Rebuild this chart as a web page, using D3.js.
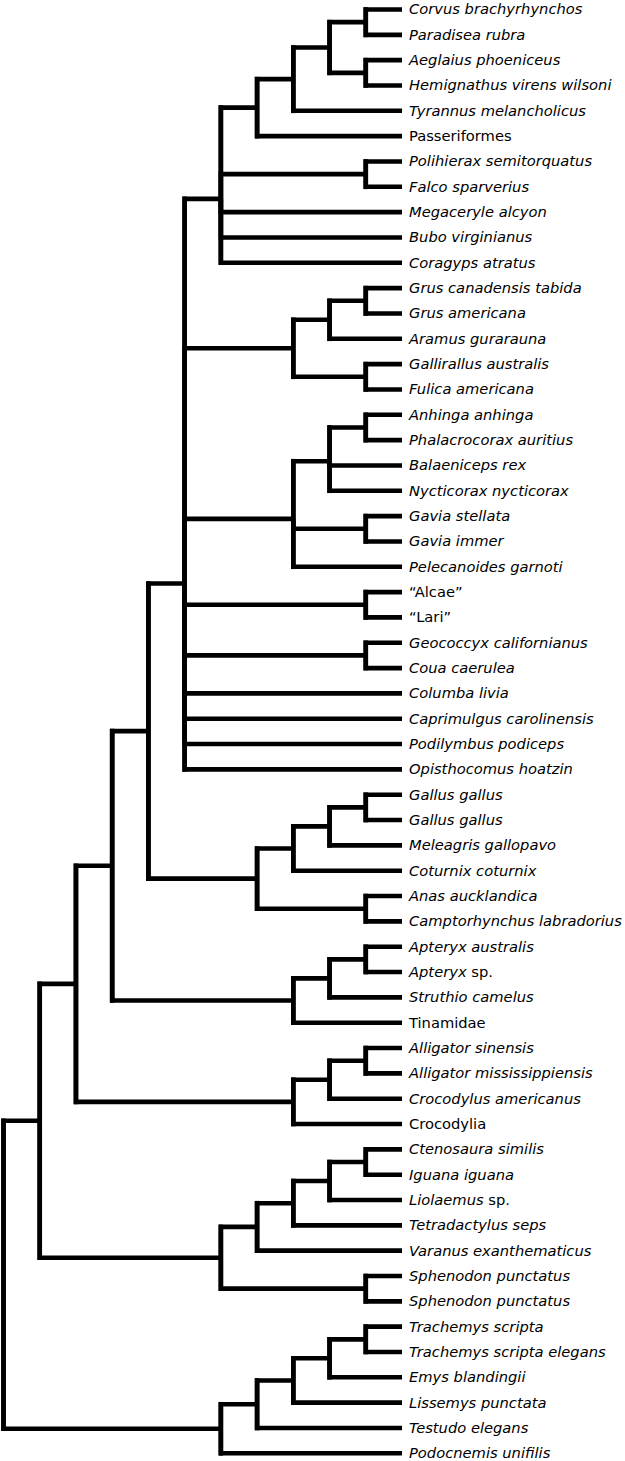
<!DOCTYPE html>
<html>
<head>
<meta charset="utf-8">
<script src="https://cdn.jsdelivr.net/npm/d3@7"></script>
<style>
  html, body { margin: 0; padding: 0; background: #fff; }
  svg { display: block; }
</style>
</head>
<body>
<div id="chart"></div>
<script>
// ---- Data ----
const taxa = [
  "Corvus brachyrhynchos", "Paradisea rubra", "Aeglaius phoeniceus", "Hemignathus virens wilsoni",
  "Tyrannus melancholicus", "Passeriformes", "Polihierax semitorquatus", "Falco sparverius",
  "Megaceryle alcyon", "Bubo virginianus", "Coragyps atratus", "Grus canadensis tabida",
  "Grus americana", "Aramus gurarauna", "Gallirallus australis", "Fulica americana",
  "Anhinga anhinga", "Phalacrocorax auritius", "Balaeniceps rex", "Nycticorax nycticorax",
  "Gavia stellata", "Gavia immer", "Pelecanoides garnoti", "\u201CAlcae\u201D",
  "\u201CLari\u201D", "Geococcyx californianus", "Coua caerulea", "Columba livia",
  "Caprimulgus carolinensis", "Podilymbus podiceps", "Opisthocomus hoatzin", "Gallus gallus",
  "Gallus gallus", "Meleagris gallopavo", "Coturnix coturnix", "Anas aucklandica",
  "Camptorhynchus labradorius", "Apteryx australis", "Apteryx sp.", "Struthio camelus",
  "Tinamidae", "Alligator sinensis", "Alligator mississippiensis", "Crocodylus americanus",
  "Crocodylia", "Ctenosaura similis", "Iguana iguana", "Liolaemus sp.",
  "Tetradactylus seps", "Varanus exanthematicus", "Sphenodon punctatus", "Sphenodon punctatus",
  "Trachemys scripta", "Trachemys scripta elegans", "Emys blandingii", "Lissemys punctata",
  "Testudo elegans", "Podocnemis unifilis"
];

// Labels written upright (higher-level taxa, informal groups)
const uprightTaxa = ["Passeriformes", "\u201CAlcae\u201D", "\u201CLari\u201D", "Tinamidae", "Crocodylia"];

// Topology (Newick, leaves are indices into taxa)
const landbirds    = "(((((0,1),(2,3)),4),5),(6,7),8,9,10)";
const gruiformes   = "(((11,12),13),(14,15))";
const waterbirds   = "(((16,17),18,19),(20,21),22)";
const neoaves      = `(${landbirds},${gruiformes},${waterbirds},(23,24),(25,26),27,28,29,30)`;
const galloanserae = "((((31,32),33),34),(35,36))";
const palaeognaths = "(((37,38),39),40)";
const crocodiles   = "(((41,42),43),44)";
const lepidosaurs  = "(((((45,46),47),48),49),(50,51))";
const turtles      = "(((((52,53),54),55),56),57)";
const topology = `(((((${neoaves},${galloanserae}),${palaeognaths}),${crocodiles}),${lepidosaurs}),${turtles});`;

// ---- Parse Newick ----
function parseNewick(s) {
  let i = 0;
  function node() {
    if (s[i] === "(") {
      i++;
      const children = [node()];
      while (s[i] === ",") { i++; children.push(node()); }
      i++; // ')'
      return { children };
    }
    let tok = "";
    while (i < s.length && /[0-9]/.test(s[i])) tok += s[i++];
    return { leaf: +tok };
  }
  return node();
}

// ---- Layout ----
const W = 625, H = 1461;
const leafStep = 25.33;
const marginLeft = 3.5, treeWidth = 398.5;
const marginTop = 9.5;

const root = d3.hierarchy(parseNewick(topology), d => d.children);
const nLeaves = root.leaves().length;

const cluster = d3.cluster()
  .size([nLeaves * leafStep, treeWidth])
  .separation(() => 1);
cluster(root);

const yOff = marginTop - leafStep / 2;

const svg = d3.select("#chart").append("svg")
  .attr("width", W).attr("height", H);

const g = svg.append("g").attr("transform", `translate(${marginLeft},${yOff})`);

const SW = 4.6;

g.selectAll("path.link")
  .data(root.links())
  .join("path")
  .attr("class", "link")
  .attr("d", d => `M${d.source.y},${d.source.x}V${d.target.x}H${d.target.y}`)
  .attr("fill", "none")
  .attr("stroke", "#000")
  .attr("stroke-width", SW)
  .attr("stroke-linejoin", "miter")
  .attr("stroke-linecap", "butt");

// square off the vertical bars' ends
g.selectAll("path.vbar")
  .data(root.descendants().filter(d => d.children))
  .join("path")
  .attr("class", "vbar")
  .attr("d", d => {
    const xs = d.children.map(c => c.x);
    return `M${d.y},${d3.min(xs) - SW / 2}V${d3.max(xs) + SW / 2}`;
  })
  .attr("stroke", "#000")
  .attr("stroke-width", SW);

const labels = g.selectAll("text.leaf")
  .data(root.leaves())
  .join("text")
  .attr("class", "leaf")
  .attr("x", d => d.y + 7)
  .attr("y", d => d.x)
  .attr("dy", "0.34em")
  .attr("font-family", "'DejaVu Sans', Verdana, sans-serif")
  .attr("font-size", 14.7)
  .attr("fill", "#000");

labels.each(function(d) {
  const name = taxa[d.data.leaf];
  const t = d3.select(this);
  if (uprightTaxa.includes(name)) {
    t.append("tspan").attr("font-style", "normal").text(name);
  } else if (/ sp\.$/.test(name)) {
    t.append("tspan").attr("font-style", "italic").text(name.replace(/ sp\.$/, ""));
    t.append("tspan").attr("font-style", "normal").text(" sp.");
  } else {
    t.append("tspan").attr("font-style", "italic").text(name);
  }
});
</script>
</body>
</html>
